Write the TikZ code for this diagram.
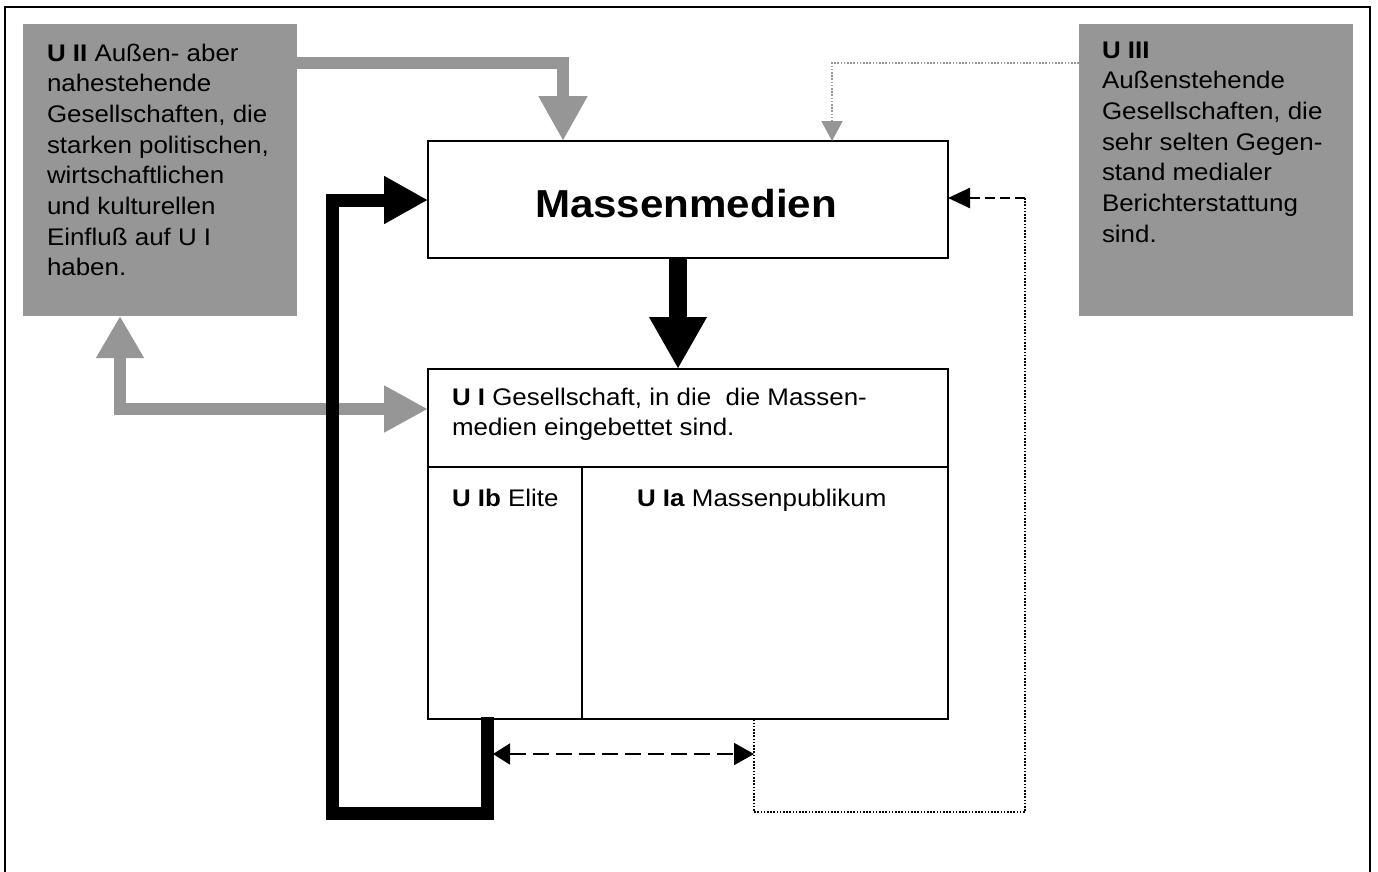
\documentclass[tikz,border=0pt]{standalone}
\usepackage{fontspec}
\setmainfont{Liberation Sans}[FakeStretch=1.08]
\usetikzlibrary{arrows.meta,calc}
\definecolor{boxgray}{RGB}{150,150,150}
\tikzset{
  graybox/.style={fill=boxgray, draw=none, inner sep=0pt, outer sep=0pt},
  whitebox/.style={draw=black, line width=1.8pt, fill=white, inner sep=0pt, outer sep=0pt},
  txt/.style={inner sep=0pt, outer sep=0pt, font=\fontsize{24pt}{30.7pt}\selectfont},
  grayflow/.style={draw=boxgray, line width=12pt, line join=miter,
    -{Triangle[length=45pt,width=46pt]}},
  grayflow2/.style={draw=boxgray, line width=12pt, line join=miter,
    {Triangle[length=42pt,width=45pt]}-{Triangle[length=44pt,width=44pt]}},
  blackflow/.style={draw=black, line width=13pt, line join=miter,
    -{Triangle[length=44pt,width=45pt]}},
  downflow/.style={draw=black, line width=18pt, -{Triangle[length=52pt,width=54pt]}},
  graydots/.style={draw=boxgray, line width=1.8pt, dash pattern=on 1.6pt off 1.6pt,
    -{Triangle[length=20pt,width=21pt]}},
  blackdots/.style={draw=black, line width=1.8pt, dash pattern=on 1.6pt off 1.6pt},
  dashin/.style={draw=black, line width=2.6pt, dash pattern=on 10pt off 5pt,
    -{Triangle[length=22pt,width=20pt]}},
  dashboth/.style={draw=black, line width=1.8pt, dash pattern=on 16pt off 7pt,
    {Triangle[length=17pt,width=21pt]}-{Triangle[length=20pt,width=22pt]}},
}
\begin{document}
\begin{tikzpicture}[x=1pt,y=-1pt]
\useasboundingbox (0,0) rectangle (1378,871);
% frame
\draw[line width=1.8pt] (5,880) -- (5,7) -- (1370,7) -- (1370,880);

% boxes
\node[graybox, minimum width=274pt, minimum height=292pt] (U2) at (160,170) {};
\node[graybox, minimum width=274pt, minimum height=292pt] (U3) at (1216,170) {};
\node[whitebox, minimum width=520pt, minimum height=117pt] (MM) at (688,199.5) {};
\node[whitebox, minimum width=520pt, minimum height=350pt] (U1) at (688,544) {};
\draw[line width=1.8pt] ($(U1.north west)+(0,98)$) -- ($(U1.north east)+(0,98)$);
\draw[line width=1.8pt] ($(U1.south west)+(154,0)$) -- ($(U1.north west)+(154,98)$);

% texts
\node[txt, anchor=base west] (t2) at (47,61) {\parbox[t]{250pt}{\raggedright
  \textbf{U II} Außen- aber\\ nahestehende\\ Gesellschaften, die\\ starken politischen,\\
  wirtschaftlichen\\ und kulturellen\\ Einfluß auf U I\\ haben.}};
\node[txt, anchor=base west] (t3) at (1102,58) {\parbox[t]{250pt}{\raggedright
  \textbf{U III}\\ Außenstehende\\ Gesellschaften, die\\ sehr selten Gegen-\\
  stand medialer\\ Berichterstattung\\ sind.}};
\node[inner sep=0pt, anchor=base, font=\bfseries\fontsize{39pt}{42pt}\selectfont] (tm) at (686,217) {Massenmedien};
\node[txt, anchor=base west] (t1) at (452,405) {\parbox[t]{480pt}{\raggedright
  \textbf{U I} Gesellschaft, in die\ \ die Massen-\\ medien eingebettet sind.}};
\node[txt, anchor=base west] (t1b) at (452,506) {\textbf{U Ib} Elite};
\node[txt, anchor=base west] (t1a) at (637,506) {\textbf{U Ia} Massenpublikum};

% helper coordinates
\coordinate (gx) at (563,63);
\coordinate (gy) at (120,409);
\coordinate (dx) at (678,0);
\coordinate (lb) at (487,813);
\coordinate (ll) at (332.5,200);
\coordinate (dotx) at (832,63);
\coordinate (rc) at (1025,198);
\coordinate (rb) at (1025,812);
\coordinate (lc) at (754,812);
\coordinate (da) at (493,754);
\coordinate (db) at (754,754);

% connectors
\draw[grayflow] (U2.east |- gx) -- (gx) -- (gx |- MM.north);
\draw[grayflow2] (gy |- U2.south) -- (gy) -- (gy -| U1.west);
\draw[downflow] (MM.south -| dx) -- (U1.north -| dx);
\draw[blackflow] ($(lb |- U1.south)+(0,-2)$) -- (lb) -- (ll |- lb) -- (ll) -- (ll -| MM.west);
\draw[graydots] (U3.west |- dotx) -- (dotx) -- (dotx |- MM.north);
\draw[dashin] (rc) -- (rc -| MM.east);
\draw[blackdots] (rc) -- (rb) -- (lc) -- (lc |- U1.south);
\draw[dashboth] (da) -- (db);
\end{tikzpicture}
\end{document}
